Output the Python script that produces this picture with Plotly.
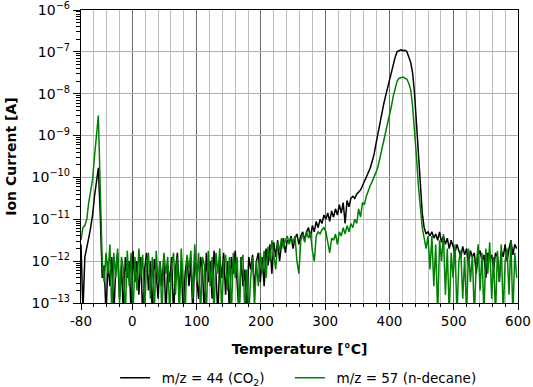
import plotly.graph_objects as go

# Temperature sampling grid [°C]
temperature = list(range(-80, 601, 3))

# log10 of ion current [A], m/z = 44 (CO2)
co2_log10 = [
    -11.6, -13.2, -11.9, -11.7, -11.45, -11.2, -10.9, -10.45, -10.05, -9.77,
    -10.9, -12.4, -12.1, -13.3, -12.0, -12.6, -11.9, -13.3, -12.2, -11.8,
    -12.9, -12.1, -13.3, -11.9, -12.4, -12.0, -13.3, -11.75, -12.5, -12.0,
    -12.8, -11.9, -13.3, -12.2, -11.8, -12.7, -12.0, -13.3, -11.95, -12.3,
    -12.9, -12.0, -12.6, -11.85, -13.3, -12.1, -12.5, -11.9, -13.3, -12.2,
    -11.8, -12.8, -12.0, -13.3, -12.3, -11.9, -12.6, -12.0, -13.3, -11.85,
    -12.4, -12.9, -11.9, -12.2, -13.3, -11.8, -12.5, -12.0, -12.9, -11.75,
    -12.3, -13.3, -11.9, -12.4, -11.8, -12.8, -12.0, -13.3, -11.9, -12.3,
    -11.75, -12.7, -13.3, -11.9, -12.6, -12.2, -13.3, -11.9, -12.2, -11.85,
    -12.7, -12.0, -11.8, -12.5, -11.9, -12.6, -11.7, -12.1, -11.6, -12.3,
    -11.55, -11.9, -11.5, -12.0, -11.6, -11.45, -11.8, -11.5, -11.55, -11.4,
    -11.7, -11.45, -11.35, -11.6, -11.4, -11.3, -11.5, -11.3, -11.2, -11.45,
    -11.15, -11.3, -11.05, -11.2, -11.0, -11.1, -10.9, -11.0, -10.85, -11.05,
    -10.8, -10.95, -10.75, -10.9, -10.65, -10.85, -10.6, -11.1, -10.55, -10.7,
    -10.5, -10.45, -10.5, -10.4, -10.35, -10.3, -10.2, -10.1, -10.0, -9.9,
    -9.78, -9.62, -9.45, -9.2, -8.95, -8.75, -8.5, -8.25, -8.05, -7.85,
    -7.7, -7.52, -7.32, -7.12, -6.99, -6.96, -6.95, -6.97, -6.96, -6.99,
    -7.1, -7.25, -7.5, -8.0, -8.7, -9.4, -10.2, -10.85, -11.2, -11.35,
    -11.3, -11.4, -11.3, -11.45, -11.35, -11.5, -11.3, -11.55, -11.4, -11.6,
    -11.45, -11.7, -11.5, -11.65, -11.8, -11.6, -11.75, -11.9, -11.65, -11.85,
    -11.7, -12.1, -11.75, -11.9, -11.8, -12.3, -11.85, -11.75, -12.0, -11.85,
    -12.4, -11.8, -11.95, -11.85, -12.2, -11.8, -11.9, -12.5, -11.75, -11.9,
    -11.6, -12.0, -11.7, -11.5, -11.85, -11.6, -11.7,
]

# log10 of ion current [A], m/z = 57 (n-decane)
decane_log10 = [
    -11.5, -11.2, -11.15, -11.0, -10.6, -10.3, -10.05, -9.5, -8.9, -8.52,
    -10.3, -12.0, -12.5, -11.8, -12.3, -11.6, -13.3, -11.8, -12.4, -11.7,
    -13.0, -11.9, -12.2, -13.3, -11.75, -12.6, -11.8, -13.3, -11.9, -12.7,
    -11.7, -12.4, -11.85, -13.3, -12.0, -11.8, -12.9, -11.9, -13.3, -11.75,
    -12.5, -12.0, -13.3, -11.8, -12.3, -11.9, -13.3, -12.1, -11.8, -12.8,
    -11.9, -13.3, -11.7, -12.4, -13.3, -11.85, -12.2, -11.75, -12.9, -11.6,
    -12.5, -11.8, -13.3, -11.9, -12.1, -13.3, -11.75, -12.6, -11.9, -13.3,
    -11.8, -12.3, -11.7, -13.3, -12.0, -11.85, -12.7, -11.9, -13.3, -11.8,
    -12.4, -11.9, -13.3, -12.0, -11.85, -13.3, -12.2, -13.3, -12.4, -11.9,
    -13.1, -12.0, -12.6, -11.8, -12.3, -11.75, -12.4, -11.65, -12.0, -11.5,
    -11.8, -12.2, -11.55, -11.75, -11.45, -11.7, -11.5, -11.4, -11.6, -11.45,
    -11.55, -11.4, -12.0, -12.3, -11.5, -11.35, -11.55, -11.3, -11.45, -11.3,
    -11.75, -12.0, -11.4, -11.3, -11.35, -11.25, -11.2, -11.3, -11.55, -11.8,
    -11.45, -11.5, -11.35, -11.6, -11.3, -11.4, -11.2, -11.35, -11.15, -11.3,
    -11.1, -11.2, -11.0, -11.1, -10.75, -10.95, -10.6, -10.65, -10.45, -10.3,
    -10.2, -10.1, -10.0, -9.88, -9.75, -9.55, -9.3, -9.1, -8.9, -8.7,
    -8.5, -8.3, -8.05, -7.85, -7.7, -7.63, -7.62, -7.6, -7.63, -7.65,
    -7.75, -7.9, -8.3, -8.85, -9.5, -10.2, -10.8, -11.2, -11.45, -11.7,
    -11.4, -12.2, -11.4, -12.6, -11.6, -13.3, -11.5, -12.0, -11.35, -12.8,
    -11.7, -13.3, -11.8, -12.4, -11.6, -13.3, -12.0, -11.75, -12.9, -11.9,
    -13.3, -11.7, -12.5, -11.85, -13.3, -12.1, -11.6, -12.7, -11.8, -13.3,
    -11.7, -12.3, -11.55, -12.9, -11.9, -13.3, -11.75, -12.5, -11.6, -13.3,
    -12.0, -11.7, -12.8, -11.5, -13.3, -11.8, -12.4,
]

series_names = ["\u2002m/z = 44 (CO<sub>2</sub>)\u2002\u2002\u2002", "\u2002m/z = 57 (n-decane)"]
series_colors = ["#000000", "#008000"]
x_tick_values = [-80, 0, 100, 200, 300, 400, 500, 600]
x_tick_text = ["-80", "0", "100", "200", "300", "400", "500", "600"]
y_tick_values = [1e-13, 1e-12, 1e-11, 1e-10, 1e-9, 1e-8, 1e-7, 1e-6]
y_tick_text = ["10<sup>−13</sup>", "10<sup>−12</sup>", "10<sup>−11</sup>", "10<sup>−10</sup>",
               "10<sup>−9</sup>", "10<sup>−8</sup>", "10<sup>−7</sup>", "10<sup>−6</sup>"]

FONT = "DejaVu Sans"

fig = go.Figure()
for name, color, logs in zip(series_names, series_colors, [co2_log10, decane_log10]):
    fig.add_trace(go.Scatter(
        x=temperature, y=[10 ** v for v in logs], mode="lines", name=name,
        line=dict(color=color, width=1.5),
    ))

fig.add_annotation(
    text="<b>Ion Current [A]</b>", textangle=-90, xref="paper", yref="paper",
    x=-0.162, y=0.5, xanchor="center", yanchor="middle", showarrow=False,
    font=dict(family=FONT, size=14, color="black"),
)

fig.update_layout(
    width=533, height=387,
    margin=dict(l=81, r=15, t=10, b=84, autoexpand=False),
    paper_bgcolor="white", plot_bgcolor="white",
    font=dict(family=FONT, size=13, color="black"),
    showlegend=True,
    legend=dict(orientation="h", x=0.078, xanchor="left", y=-0.256, yanchor="middle",
                font=dict(family=FONT, size=13.5), bgcolor="rgba(0,0,0,0)"),
    xaxis=dict(
        range=[-80, 600], tickmode="array", tickvals=x_tick_values, ticktext=x_tick_text,
        ticks="outside", ticklen=6, tickcolor="black", tickwidth=1,
        showline=True, linecolor="black", linewidth=1.2, mirror=True,
        showgrid=True, gridcolor="#6a6a6a", gridwidth=1, zeroline=False,
        minor=dict(dtick=20, tick0=0, ticks="outside", ticklen=3, tickcolor="black",
                   showgrid=True, gridcolor="#bdbdbd", gridwidth=1),
        title=dict(text="<b>Temperature [°C]</b>", font=dict(family=FONT, size=14), standoff=15),
        tickfont=dict(family=FONT, size=13.5), automargin=False,
    ),
    yaxis=dict(
        type="log", range=[-13, -6], tickmode="array", tickvals=y_tick_values, ticktext=y_tick_text,
        ticks="outside", ticklen=7, tickcolor="black", tickwidth=1,
        showline=True, linecolor="black", linewidth=1.2, mirror=True,
        showgrid=True, gridcolor="#b0b0b0", gridwidth=1, zeroline=False,
        minor=dict(dtick="D1", ticks="outside", ticklen=4, tickcolor="black", showgrid=False),
        tickfont=dict(family=FONT, size=14), automargin=False,
    ),
)

fig.write_html("out.html", config={"displayModeBar": False},
               post_script="document.body.style.margin='0';")
